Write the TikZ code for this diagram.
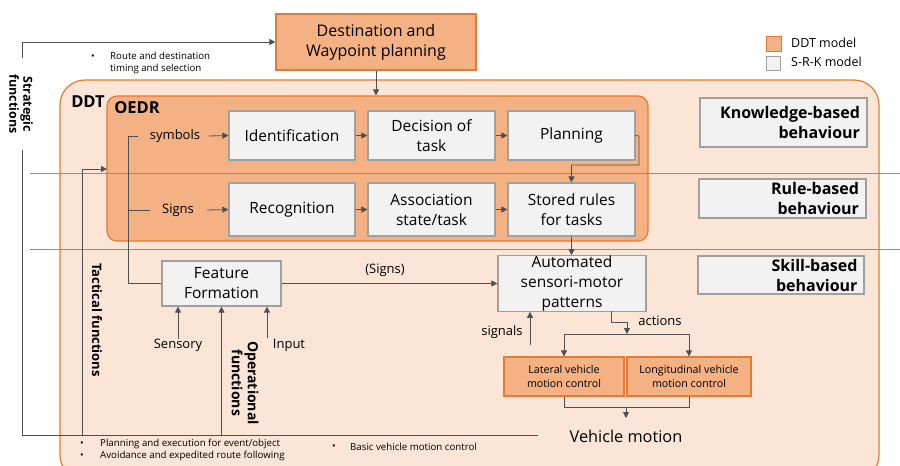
\documentclass[tikz,border=0pt]{standalone}
\usepackage{fontspec}
\setmainfont{Open Sans}
\usetikzlibrary{arrows.meta}
\definecolor{ddtfill}{HTML}{FBE5D6}
\definecolor{ddtline}{HTML}{E57A32}
\definecolor{orfill}{HTML}{F4B183}
\definecolor{grfill}{HTML}{F2F2F2}
\definecolor{grline}{HTML}{A0A0A0}
\definecolor{conn}{HTML}{505050}
\definecolor{sep}{HTML}{8E8E8E}
\tikzset{
  fs/.style 2 args={font=\fontsize{#1}{#2}\selectfont},
  srk/.style={draw=grline, fill=grfill, line width=1.2pt, inner sep=0pt, align=center, fs={15.5}{20}},
  ddtbox/.style={draw=ddtline, fill=orfill, line width=1.2pt, inner sep=0pt, align=center},
  beh/.style={draw=grline, fill=grfill, line width=1.2pt, inner sep=0pt, align=right, font=\fontsize{16}{20}\selectfont\bfseries},
  conline/.style={draw=conn, line width=0.8pt},
  arr/.style={conline, -{Triangle[length=6pt,width=6pt]}},
  lbl/.style={inner sep=0pt, fs={13}{15}},
  small/.style={inner sep=0pt, anchor=west, fs={9.7}{12}},
  rot/.style={inner sep=0pt, rotate=-90, align=center},
}
\begin{document}
\begin{tikzpicture}[x=1pt,y=-1pt]
\useasboundingbox (0,0) rectangle (900,466);
% DDT container
\draw[draw=ddtline, fill=ddtfill, line width=1.2pt, rounded corners=25pt] (60,80) rectangle (879,480);
\node[inner sep=0pt, font=\fontsize{16.5}{18}\selectfont\bfseries] (ddtlbl) at (88,102) {DDT};
% OEDR container
\node[draw=ddtline, fill=orfill, line width=1.2pt, rounded corners=10pt, minimum width=541pt, minimum height=145pt, inner sep=0pt] (oedr) at (377.5,168.5) {};
\node[inner sep=0pt, font=\fontsize{16.5}{18}\selectfont\bfseries] (oedrlbl) at (137,108) {OEDR};
% separators
\coordinate (s1a) at (30,173); \coordinate (s1b) at (900,173);
\coordinate (s2a) at (30,249); \coordinate (s2b) at (900,249);
\draw[sep, line width=1pt] (s1a) -- (s1b);
\draw[sep, line width=1pt] (s2a) -- (s2b);
% top box
\node[ddtbox, minimum width=200pt, minimum height=56pt, fs={16}{20}] (dest) at (376,42) {Destination and\\Waypoint planning};
% SRK boxes
\node[srk, minimum width=126pt, minimum height=49pt] (ident) at (292,135.5) {Identification};
\node[srk, minimum width=127pt, minimum height=49pt] (dec) at (431.5,135.5) {Decision of\\task};
\node[srk, minimum width=127pt, minimum height=49pt] (plan) at (571.5,135.5) {Planning};
\node[srk, minimum width=126pt, minimum height=53pt] (recog) at (292,209.5) {Recognition};
\node[srk, minimum width=127pt, minimum height=53pt] (assoc) at (431.5,209.5) {Association\\state/task};
\node[srk, minimum width=127pt, minimum height=53pt] (stored) at (571.5,209.5) {Stored rules\\for tasks};
\node[srk, minimum width=119pt, minimum height=45pt] (feat) at (221.5,283.5) {Feature\\Formation};
\node[srk, minimum width=148pt, minimum height=55pt] (auto) at (572,283.5) {Automated\\sensori-motor\\patterns};
\node[ddtbox, minimum width=120pt, minimum height=39pt, fs={10.7}{14}] (lat) at (564,376.5) {Lateral vehicle\\motion control};
\node[ddtbox, minimum width=124pt, minimum height=39pt, fs={10.7}{14}] (lon) at (689,376.5) {Longitudinal vehicle\\motion control};
% behaviour boxes
\node[beh, minimum width=167pt, minimum height=49pt, text width=153pt] (kb) at (783.5,122.5) {Knowledge-based\\behaviour};
\node[beh, minimum width=167pt, minimum height=39pt, text width=153pt] (rb) at (782.5,198.5) {Rule-based\\behaviour};
\node[beh, minimum width=166pt, minimum height=38pt, text width=153pt] (sb) at (781,275) {Skill-based\\behaviour};
% legend
\node[draw=ddtline, fill=orfill, line width=1pt, minimum size=15pt, inner sep=0pt] (leg1) at (773.5,43.5) {};
\node[draw=grline, fill=grfill, line width=1pt, minimum size=14pt, inner sep=0pt] (leg2) at (773.5,63) {};
\node[inner sep=0pt, anchor=west, fs={12.5}{14}] (leg1t) at (791,43) {DDT model};
\node[inner sep=0pt, anchor=west, fs={12.5}{14}] (leg2t) at (791,62) {S-R-K model};
% strategic frame
\coordinate (fr1) at (22,58); \coordinate (fr2) at (22,42);
\draw[arr] (fr1) -- (fr2) -- (dest.west);
\coordinate (fr3) at (22,150); \coordinate (fr4) at (22,435); \coordinate (fr5) at (538,435);
\draw[conline] (fr3) -- (fr4) -- (fr5);
\node[rot, font=\fontsize{12.5}{14}\selectfont\bfseries] (strat) at (21,104) {Strategic\\functions};
\node[small] (b1) at (91,57) {•};
\node[small, align=left, font=\fontsize{9.7}{12.5}\selectfont] (rt) at (110,63) {Route and destination\\timing and selection};
% dest -> OEDR
\draw[arr] (dest.south) -- (dest.south |- oedr.north);
% symbols / signs
\node[lbl] (sym) at (175,136) {symbols};
\node[lbl] (sig) at (178,210) {Signs};
\coordinate (br0) at (138,136); \coordinate (br1) at (128,136); \coordinate (br2) at (128,283.5);
\draw[conline] (br0) -- (br1) -- (br2) -- (feat.west);
\coordinate (bs1) at (128,210); \coordinate (bs2) at (150,210);
\draw[conline] (bs1) -- (bs2);
\coordinate (sa1) at (209,136); \coordinate (sa2) at (207,210);
\draw[arr] (sa1) -- (ident.west);
\draw[arr] (sa2) -- (recog.west);
\draw[arr] (ident) -- (dec);
\draw[arr] (dec) -- (plan);
\draw[arr] (recog) -- (assoc);
\draw[arr] (assoc) -- (stored);
\coordinate (p1) at (639,136); \coordinate (p2) at (639,165); \coordinate (p3) at (571.5,165);
\draw[arr] (plan.east) -- (p1) -- (p2) -- (p3) -- (stored.north);
\draw[arr] (stored.south) -- (auto.north -| stored.south);
% feature -> auto
\draw[arr] (feat.east) -- (auto.west);
\node[lbl] (signs2) at (385,270) {(Signs)};
% inputs to feature formation
\node[inner sep=0pt, fs={13}{15}] (sens) at (178,345) {Sensory};
\node[inner sep=0pt, fs={13}{15}] (inp) at (289,345) {Input};
\coordinate (in1) at (267,338);
\coordinate (op1) at (221.5,435);
\draw[arr] (sens.north) -- (sens.north |- feat.south);
\draw[arr] (in1) -- (in1 |- feat.south);
\draw[arr] (op1) -- (feat.south);
\node[rot, font=\fontsize{14}{16}\selectfont\bfseries] (oper) at (245,383) {Operational\\functions};
% tactical
\coordinate (t1) at (82,435); \coordinate (t2) at (82,169); \coordinate (t3) at (107,169);
\draw[arr] (t1) -- (t2) -- (t3);
\node[rot, font=\fontsize{13}{15}\selectfont\bfseries] (tact) at (97,320) {Tactical functions};
% signals / actions
\coordinate (sg1) at (530,345);
\draw[arr] (sg1) -- (sg1 |- auto.south);
\node[lbl] (sgl) at (502,332) {signals};
\coordinate (ac0) at (611,311); \coordinate (ac1) at (611,322); \coordinate (ac2) at (627,322); \coordinate (ac3) at (627,334);
\draw[arr] (ac0) -- (ac1) -- (ac2) -- (ac3);
\node[lbl] (acl) at (660,321) {actions};
\coordinate (bl) at (564,334); \coordinate (brr) at (689,334);
\draw[conline] (bl) -- (brr);
\draw[arr] (bl) -- (lat.north);
\draw[arr] (brr) -- (lon.north);
\coordinate (m1) at (564,407); \coordinate (m2) at (689,407);
\draw[conline] (lat.south) -- (m1) -- (m2) -- (lon.south);
\coordinate (vm1) at (626,407); \coordinate (vm2) at (626,418);
\node[inner sep=0pt, fs={16.3}{18}] (vm) at (626,436) {Vehicle motion};
\draw[arr] (vm1) -- (vm2);
% bottom bullets
\node[small] (b2) at (80,444) {•};
\node[small] (b2t) at (100,444) {Planning and execution for event/object};
\node[small] (b3) at (80,456) {•};
\node[small] (b3t) at (100,456) {Avoidance and expedited route following};
\node[small] (b4) at (332,447) {•};
\node[small] (b4t) at (350,447) {Basic vehicle motion control};
\end{tikzpicture}
\end{document}
